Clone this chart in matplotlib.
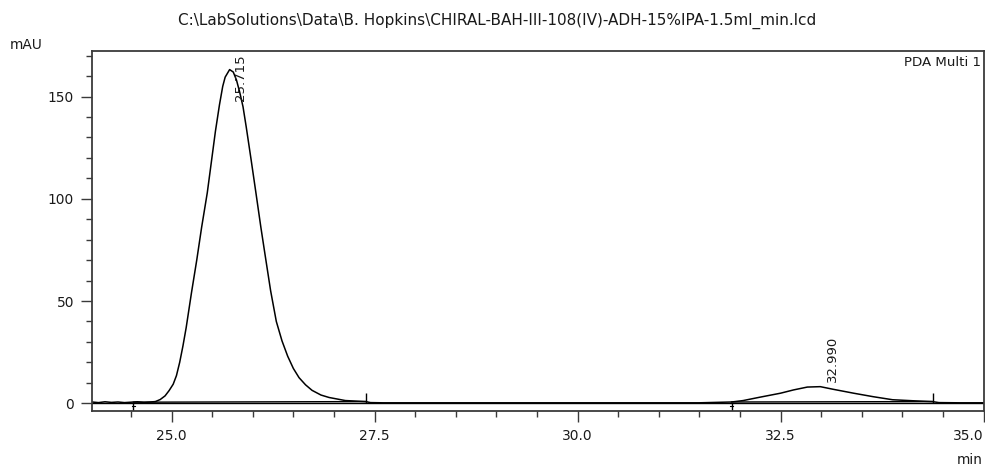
import matplotlib
matplotlib.use("Agg")
import matplotlib.pyplot as plt
from matplotlib.ticker import MultipleLocator

# chromatogram trace (min, mAU)
tempo = [24.02, 24.10, 24.18, 24.26, 24.34, 24.42, 24.50, 24.58, 24.66, 24.74, 24.80,
         24.86, 24.92, 24.97, 25.02, 25.06, 25.10, 25.14, 25.18, 25.245, 25.31, 25.37,
         25.44, 25.49, 25.54, 25.59, 25.63, 25.66, 25.715, 25.76, 25.80, 25.84, 25.88,
         25.92, 25.98, 26.04, 26.10, 26.15, 26.22, 26.29, 26.36, 26.43, 26.50, 26.57,
         26.65, 26.73, 26.84, 26.94, 27.14, 27.39, 27.45, 27.60,
         28.50, 29.50, 30.50, 31.50, 31.90, 32.04, 32.24, 32.50, 32.66, 32.83, 32.99,
         33.15, 33.40, 33.64, 33.88, 34.13, 34.37, 34.45, 34.70, 35.00]
sinal = [0.6, 0.3, 0.7, 0.4, 0.6, 0.3, 0.5, 0.7, 0.4, 0.6, 0.8,
         1.8, 3.6, 6.2, 9.3, 13.5, 20.0, 28.0, 37.0, 54.0, 70.0, 86.0,
         103.0, 118.0, 133.0, 146.0, 155.0, 159.5, 163.2, 162.0, 158.0, 152.0, 145.0,
         135.0, 119.0, 102.6, 86.0, 73.0, 55.0, 40.0, 30.5, 23.0, 17.0, 12.5,
         9.0, 6.3, 4.0, 2.8, 1.3, 0.8, 0.3, 0.2,
         0.2, 0.2, 0.2, 0.2, 0.6, 1.3, 2.9, 4.9, 6.5, 7.9, 8.1,
         6.8, 4.9, 3.2, 1.7, 1.2, 0.8, 0.3, 0.2, 0.2]

# peaks: retention time, apex height, integration start / end
picos_tr = [25.715, 32.990]
picos_altura = [163.2, 8.1]
picos_inicio = [24.53, 31.90]
picos_fim = [27.40, 34.38]
nivel_inicio = [0.5, 0.6]
nivel_fim = [0.8, 0.8]

titulo = r"C:\LabSolutions\Data\B. Hopkins\CHIRAL-BAH-III-108(IV)-ADH-15%IPA-1.5ml_min.lcd"

plt.rcParams['font.family'] = ['DejaVu Sans']
cor_texto = '#1a1a1a'
cor_eixo = '#3a3a3a'

fig = plt.figure(figsize=(9.85, 4.69), dpi=100)
ax = fig.add_axes([0.0934, 0.1237, 0.9051, 0.7676])

ax.plot(tempo, sinal, color='black', lw=1.1)
ax.axhline(0, color='black', lw=1.0)

# integration baselines and start/end marks
for i in range(len(picos_tr)):
    ax.plot([picos_inicio[i], picos_fim[i]], [nivel_inicio[i], nivel_fim[i]], color='black', lw=1.0)
    ax.vlines(picos_inicio[i], -5.0, 0.3, color='black', lw=1.0)
    ax.plot([picos_inicio[i] - 0.02, picos_inicio[i] + 0.02], [-1.5, -1.5], color='black', lw=0.8)
    ax.vlines(picos_fim[i], 0, 5.0, color='black', lw=1.0)

# retention time labels
ax.text(picos_tr[0] + 0.14, 170.5, f"{picos_tr[0]:.3f}", rotation=90, ha='center', va='top',
        fontsize=9.5, color=cor_texto)
ax.text(picos_tr[1] + 0.15, picos_altura[1] + 2.2, f"{picos_tr[1]:.3f}", rotation=90, ha='center',
        va='bottom', fontsize=9.5, color=cor_texto)

ax.set_xlim(24.02, 35.0)
ax.set_ylim(-3.8, 172.3)
ax.xaxis.set_major_locator(MultipleLocator(2.5))
ax.xaxis.set_minor_locator(MultipleLocator(0.5))
ax.yaxis.set_major_locator(MultipleLocator(50))
ax.yaxis.set_minor_locator(MultipleLocator(10))
ax.xaxis.set_major_formatter(lambda v, p: f"{v:.1f}")
ax.tick_params(which='major', length=8, width=1.0, color=cor_eixo, labelsize=9.9,
               labelcolor=cor_texto, direction='out', pad=5)
ax.tick_params(which='minor', length=4, width=1.0, color=cor_eixo, direction='out')
for lado in ax.spines.values():
    lado.set_color(cor_eixo)
    lado.set_linewidth(1.3)

fig.canvas.draw()
for rotulo in ax.get_xticklabels():
    if rotulo.get_text() == "35.0":
        rotulo.set_ha('right')

fig.text(0.5045, 0.955, titulo, ha='center', va='center', fontsize=11.0, color=cor_texto)
fig.text(0.010, 0.905, "mAU", ha='left', va='center', fontsize=9.9, color=cor_texto)
fig.text(0.998, 0.020, "min", ha='right', va='center', fontsize=9.9, color=cor_texto)
ax.text(0.997, 0.985, "PDA Multi 1", transform=ax.transAxes, ha='right', va='top',
        fontsize=9.6, color=cor_texto)

fig.savefig("out.png", dpi=100)
